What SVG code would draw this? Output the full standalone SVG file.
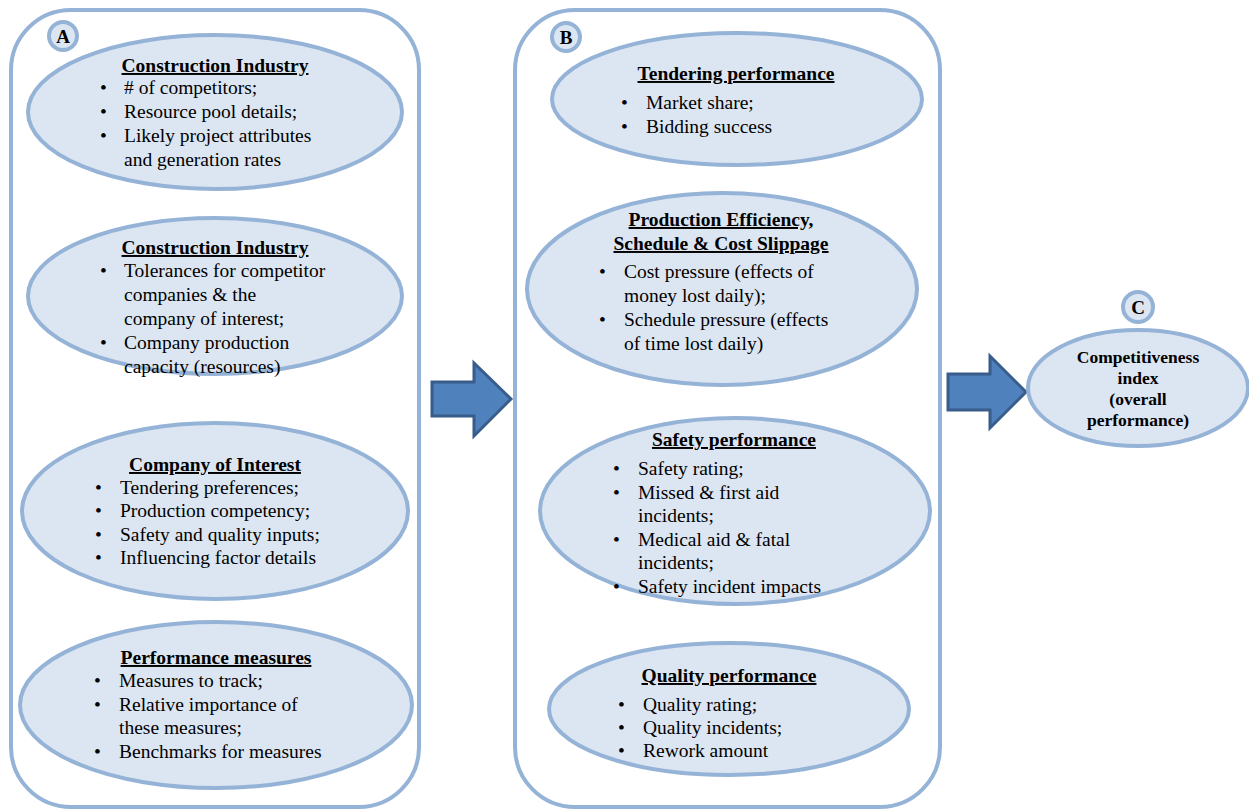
<svg xmlns="http://www.w3.org/2000/svg" width="1249" height="811" viewBox="0 0 1249 811" font-family="Liberation Serif, Times New Roman, Times, serif">
  <style>
    .panel { fill: #ffffff; stroke: #95b3d7; stroke-width: 4; }
    .node { fill: #dce6f2; stroke: #95b3d7; stroke-width: 4; }
    .tag { fill: #dce6f2; stroke: #95b3d7; stroke-width: 4; }
    .arrow { fill: #4f81bd; stroke: #385d8a; stroke-width: 3; stroke-linejoin: miter; }
    text { font-family: 'Liberation Serif', 'Times New Roman', Times, serif; fill: #000000; }
    .h { font-size: 19.5px; font-weight: bold; text-decoration: underline; text-anchor: middle; }
    .b { font-size: 19.5px; }
    .lbl { font-size: 19px; font-weight: bold; text-anchor: middle; }
    .c { font-size: 17.5px; font-weight: bold; text-anchor: middle; }
  </style>

  <!-- panels -->
  <g id="panel-a">
    <rect class="panel" x="11" y="10" width="408" height="797" rx="60" ry="60"/>
    <circle class="tag" cx="63" cy="36" r="14"/>
    <text class="lbl" x="63" y="42.5">A</text>
  </g>
  <g id="panel-b">
    <rect class="panel" x="515" y="10" width="425" height="797" rx="60" ry="60"/>
    <circle class="tag" cx="566" cy="37" r="14"/>
    <text class="lbl" x="566" y="43.5">B</text>
  </g>

  <!-- connectors -->
  <g id="connectors">
    <polygon class="arrow" points="432,382 474,382 474,363 511,399 474,436 474,416 432,416"/>
    <polygon class="arrow" points="948,374 990,374 990,356 1026,392 990,428 990,410 948,410"/>
  </g>

  <!-- panel A nodes -->
  <g id="a-industry-1">
    <ellipse class="node" cx="215" cy="112" rx="187" ry="77"/>
    <text class="h" x="215" y="72">Construction Industry</text>
    <text class="b" x="100" y="94">•</text><text class="b" x="124" y="94"># of competitors;</text>
    <text class="b" x="100" y="118">•</text><text class="b" x="124" y="118">Resource pool details;</text>
    <text class="b" x="100" y="142">•</text><text class="b" x="124" y="142">Likely project attributes</text>
    <text class="b" x="124" y="166">and generation rates</text>
  </g>
  <g id="a-industry-2">
    <ellipse class="node" cx="215" cy="296" rx="187" ry="78"/>
    <text class="h" x="215" y="254">Construction Industry</text>
    <text class="b" x="100" y="277">•</text><text class="b" x="124" y="277">Tolerances for competitor</text>
    <text class="b" x="124" y="301">companies &amp; the</text>
    <text class="b" x="124" y="325">company of interest;</text>
    <text class="b" x="100" y="349">•</text><text class="b" x="124" y="349">Company production</text>
    <text class="b" x="124" y="373">capacity (resources)</text>
  </g>
  <g id="a-company">
    <ellipse class="node" cx="215" cy="511" rx="193" ry="88"/>
    <text class="h" x="215" y="471">Company of Interest</text>
    <text class="b" x="95" y="494">•</text><text class="b" x="120" y="494">Tendering preferences;</text>
    <text class="b" x="95" y="517">•</text><text class="b" x="120" y="517">Production competency;</text>
    <text class="b" x="95" y="541">•</text><text class="b" x="120" y="541">Safety and quality inputs;</text>
    <text class="b" x="95" y="564">•</text><text class="b" x="120" y="564">Influencing factor details</text>
  </g>
  <g id="a-measures">
    <ellipse class="node" cx="216" cy="705" rx="196" ry="83"/>
    <text class="h" x="216" y="664">Performance measures</text>
    <text class="b" x="94" y="687">•</text><text class="b" x="119" y="687">Measures to track;</text>
    <text class="b" x="94" y="711">•</text><text class="b" x="119" y="711">Relative importance of</text>
    <text class="b" x="119" y="734">these measures;</text>
    <text class="b" x="94" y="758">•</text><text class="b" x="119" y="758">Benchmarks for measures</text>
  </g>

  <!-- panel B nodes -->
  <g id="b-tendering">
    <ellipse class="node" cx="737" cy="99" rx="185" ry="66"/>
    <text class="h" x="736" y="80">Tendering performance</text>
    <text class="b" x="621" y="109">•</text><text class="b" x="646" y="109">Market share;</text>
    <text class="b" x="621" y="133">•</text><text class="b" x="646" y="133">Bidding success</text>
  </g>
  <g id="b-production">
    <ellipse class="node" cx="722" cy="289" rx="195" ry="96"/>
    <text class="h" x="721" y="226">Production Efficiency,</text>
    <text class="h" x="721" y="250">Schedule &amp; Cost Slippage</text>
    <text class="b" x="599" y="278">•</text><text class="b" x="624" y="278">Cost pressure (effects of</text>
    <text class="b" x="624" y="302">money lost daily);</text>
    <text class="b" x="599" y="326">•</text><text class="b" x="624" y="326">Schedule pressure (effects</text>
    <text class="b" x="624" y="350">of time lost daily)</text>
  </g>
  <g id="b-safety">
    <ellipse class="node" cx="735" cy="511" rx="195" ry="93"/>
    <text class="h" x="734" y="446">Safety performance</text>
    <text class="b" x="613" y="475">•</text><text class="b" x="638" y="475">Safety rating;</text>
    <text class="b" x="613" y="499">•</text><text class="b" x="638" y="499">Missed &amp; first aid</text>
    <text class="b" x="638" y="522">incidents;</text>
    <text class="b" x="613" y="546">•</text><text class="b" x="638" y="546">Medical aid &amp; fatal</text>
    <text class="b" x="638" y="569">incidents;</text>
    <text class="b" x="613" y="593">•</text><text class="b" x="638" y="593">Safety incident impacts</text>
  </g>
  <g id="b-quality">
    <ellipse class="node" cx="729" cy="709" rx="180" ry="66"/>
    <text class="h" x="729" y="682">Quality performance</text>
    <text class="b" x="618" y="711">•</text><text class="b" x="643" y="711">Quality rating;</text>
    <text class="b" x="618" y="734">•</text><text class="b" x="643" y="734">Quality incidents;</text>
    <text class="b" x="618" y="757">•</text><text class="b" x="643" y="757">Rework amount</text>
  </g>

  <!-- output node C -->
  <g id="c-index">
    <circle class="tag" cx="1138" cy="307" r="15"/>
    <text class="lbl" x="1138" y="313.5">C</text>
    <ellipse class="node" cx="1138" cy="388" rx="110" ry="58"/>
    <text class="c" x="1138" y="363">Competitiveness</text>
    <text class="c" x="1138" y="384">index</text>
    <text class="c" x="1138" y="405">(overall</text>
    <text class="c" x="1138" y="426">performance)</text>
  </g>
</svg>
